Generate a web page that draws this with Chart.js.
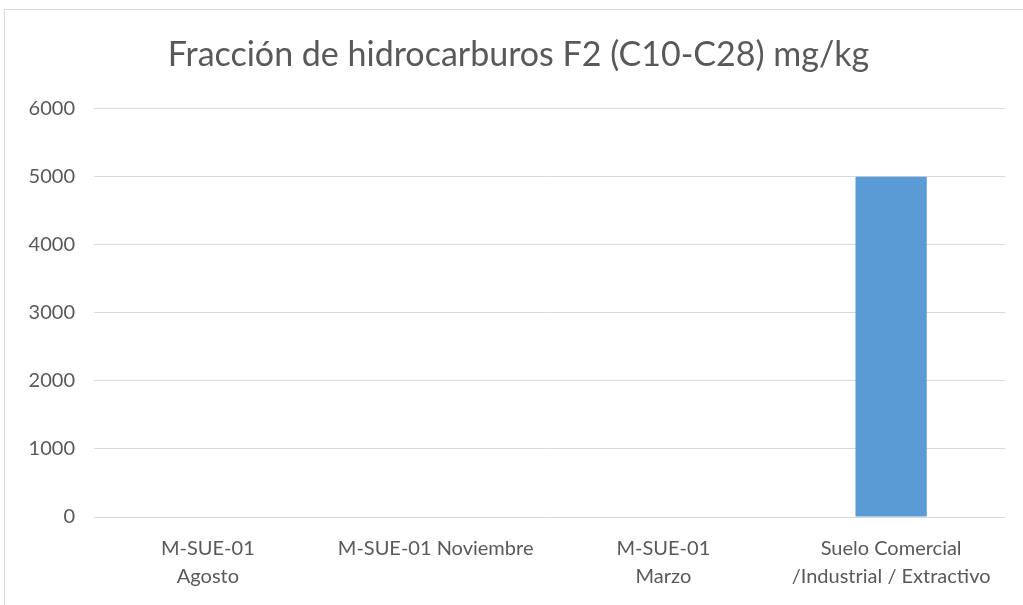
<!DOCTYPE html>
<html>
<head>
<meta charset="utf-8">
<script src="https://cdn.jsdelivr.net/npm/chart.js@4"></script>
<style>
  html, body { margin: 0; padding: 0; background: #fff; overflow: hidden; }
  #wrap { position: relative; width: 1023px; height: 605px; }
  #frame { position: absolute; left: 4px; top: 9px; width: 1040px; height: 620px; border: 1px solid #d9d9d9; box-sizing: border-box; pointer-events: none; }
</style>
</head>
<body>
<div id="wrap">
  <canvas id="chart" width="1023" height="605"></canvas>
  <div id="frame"></div>
</div>
<script>
// --- Chart data ---
const categories = [
    ['M-SUE-01', 'Agosto'],
    'M-SUE-01 Noviembre',
    ['M-SUE-01', 'Marzo'],
    ['Suelo Comercial', '/Industrial / Extractivo']
];
const values = [0, 0, 0, 5000];
const yTicks = [0, 1000, 2000, 3000, 4000, 5000, 6000];

const titleText = 'Fracción de hidrocarburos F2 (C10-C28) mg/kg';
const textColor = '#595959';
const gridColor = '#d9d9d9';
const fontFamily = 'Lato, "Open Sans", sans-serif';

// nudge the title box so it is centred like the original
const titleShift = {
    id: 'titleShift',
    afterLayout(chart) {
        if (chart.titleBlock) chart.titleBlock.left += 32;
    }
};

const ctx = document.getElementById('chart');
new Chart(ctx, {
    type: 'bar',
    data: {
        labels: categories,
        datasets: [{
            label: 'F2',
            data: values,
            backgroundColor: '#5b9bd5',
            borderWidth: 0,
            barPercentage: 0.313,
            categoryPercentage: 1.0
        }]
    },
    options: {
        responsive: false,
        animation: false,
        layout: { padding: { left: 0, right: 18, top: 0, bottom: 0 } },
        plugins: {
            legend: { display: false },
            tooltip: { enabled: false },
            title: {
                display: true,
                text: titleText,
                color: textColor,
                font: { family: fontFamily, size: 34, weight: 'normal', lineHeight: 1.2 },
                padding: { top: 35, bottom: 33 }
            }
        },
        scales: {
            x: {
                grid: { display: false, drawTicks: false },
                border: { display: false },
                ticks: {
                    color: textColor,
                    font: { family: fontFamily, size: 20, lineHeight: '28px' },
                    padding: 18,
                    maxRotation: 0,
                    autoSkip: false
                },
                afterFit: (scale) => { scale.height = 88; }
            },
            y: {
                min: 0,
                max: 6000,
                afterBuildTicks: (scale) => { scale.ticks = yTicks.map(v => ({ value: v })); },
                grid: { color: gridColor, lineWidth: 1, drawTicks: false },
                border: { display: false },
                ticks: {
                    color: textColor,
                    font: { family: fontFamily, size: 20 },
                    padding: 19,
                    callback: (value) => String(value)
                },
                afterFit: (scale) => { scale.width = 94; }
            }
        }
    },
    plugins: [titleShift]
});
</script>
</body>
</html>
